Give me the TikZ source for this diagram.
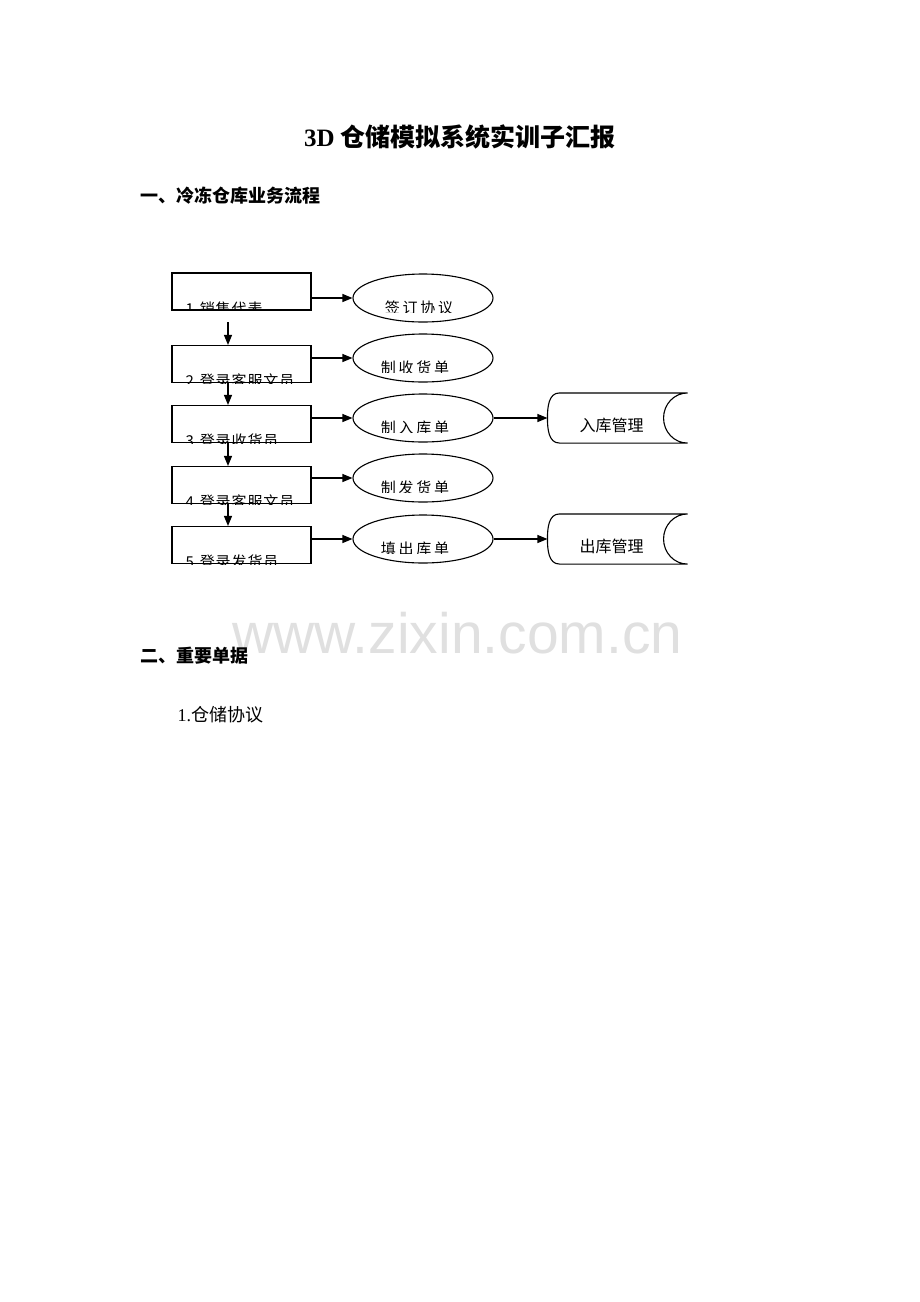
\documentclass[tikz,border=0pt]{standalone}
\usepackage{fontspec}
\usetikzlibrary{arrows.meta,shapes.geometric}
\setmainfont{Liberation Serif}
\newfontfamily\cjk{Noto Sans CJK SC}
\newfontfamily\wmfont{Liberation Sans}
\begin{document}
\begin{tikzpicture}[x=1pt,y=-1pt,line width=1.1pt,
  arr/.style={-{Triangle[length=10pt,width=8pt]}},
  stepbox/.style={draw,minimum width=139pt,minimum height=37pt,inner sep=0pt},
  oval/.style={draw,ellipse,minimum width=140pt,minimum height=48pt,inner sep=0pt},
  store/.style={minimum width=139pt,minimum height=49pt,inner sep=0pt},
  boxtxt/.style={inner sep=0pt,anchor=west,font=\cjk\fontsize{15}{15}\selectfont\addfontfeature{LetterSpace=6}},
  ovaltxt/.style={inner sep=0pt,font=\cjk\fontsize{15}{15}\selectfont\addfontfeature{LetterSpace=18}},
  storetxt/.style={inner sep=0pt,font=\cjk\fontsize{16}{16}\selectfont},
  headtxt/.style={inner sep=0pt,anchor=west,font=\cjk\bfseries\fontsize{18}{18}\selectfont}]
\useasboundingbox (0,0) rectangle (920,1302);
\fill[white] (0,0) rectangle (920,1302);

% watermark
\node[anchor=base west,inner sep=0pt,text=black!12,font=\wmfont\fontsize{57}{57}\selectfont] (wm) at (232,653) {www.zixin.com.cn};

% title and headings
\node[inner sep=0pt,font=\bfseries\fontsize{25}{25}\selectfont] (title) at (460,137) {3D {\cjk\bfseries 仓储模拟系统实训子汇报}};
\node[headtxt] (h1) at (140,196) {一、冷冻仓库业务流程};
\node[headtxt] (h2) at (140,656) {二、重要单据};
\node[inner sep=0pt,anchor=west,font=\fontsize{18}{18}\selectfont] (item) at (177,715) {1.{\cjk 仓储协议}};

% boxes
\node[stepbox] (b1) at (241.5,291.5) {};
\node[stepbox] (b2) at (241.5,364) {};
\node[stepbox] (b3) at (241.5,424) {};
\node[stepbox] (b4) at (241.5,485) {};
\node[stepbox] (b5) at (241.5,545) {};

% ovals
\node[oval] (e1) at (423,298) {};
\node[oval] (e2) at (423,358) {};
\node[oval] (e3) at (423,418) {};
\node[oval] (e4) at (423,478) {};
\node[oval] (e5) at (423,539) {};

% stores
\node[store] (s1) at (617.5,418) {};
\node[store] (s2) at (617.5,539) {};
\foreach \s in {s1,s2}{
  \draw ([xshift=12pt]\s.north west) -- (\s.north east)
        to[out=180,in=90] ([xshift=-24pt]\s.east)
        to[out=-90,in=180] (\s.south east)
        -- ([xshift=12pt]\s.south west)
        to[out=180,in=-90] (\s.west)
        to[out=90,in=180] ([xshift=12pt]\s.north west);
}
\node[storetxt] (st1) at ([xshift=-6pt,yshift=-7pt]s1.center) {入库管理};
\node[storetxt] (st2) at ([xshift=-6pt,yshift=-7pt]s2.center) {出库管理};

% clipped box texts
\begin{scope}\clip (b1.north west) rectangle (b1.south east);
\node[boxtxt] (t1) at (185,308.5) {1.销售代表};\end{scope}
\begin{scope}\clip (b2.north west) rectangle (b2.south east);
\node[boxtxt] (t2) at (185,380.5) {2.登录客服文员};\end{scope}
\begin{scope}\clip (b3.north west) rectangle (b3.south east);
\node[boxtxt] (t3) at (185,440.5) {3.登录收货员};\end{scope}
\begin{scope}\clip (b4.north west) rectangle (b4.south east);
\node[boxtxt] (t4) at (185,501.5) {4.登录客服文员};\end{scope}
\begin{scope}\clip (b5.north west) rectangle (b5.south east);
\node[boxtxt] (t5) at (185,561.5) {5.登录发货员};\end{scope}

% oval texts (slightly clipped at bottom)
\begin{scope}\clip ([yshift=-14pt]e1.west) rectangle (e1.north east);
\node[ovaltxt] (o1) at ([xshift=-4pt,yshift=-10pt]e1.center) {签订协议};\end{scope}
\begin{scope}\clip ([yshift=-14pt]e2.west) rectangle (e2.north east);
\node[ovaltxt] (o2) at ([xshift=-8pt,yshift=-10pt]e2.center) {制收货单};\end{scope}
\begin{scope}\clip ([yshift=-14pt]e3.west) rectangle (e3.north east);
\node[ovaltxt] (o3) at ([xshift=-8pt,yshift=-10pt]e3.center) {制入库单};\end{scope}
\begin{scope}\clip ([yshift=-14pt]e4.west) rectangle (e4.north east);
\node[ovaltxt] (o4) at ([xshift=-8pt,yshift=-10pt]e4.center) {制发货单};\end{scope}
\begin{scope}\clip ([yshift=-14pt]e5.west) rectangle (e5.north east);
\node[ovaltxt] (o5) at ([xshift=-8pt,yshift=-10pt]e5.center) {填出库单};\end{scope}

% connectors
\coordinate (a0) at (228,322);
\draw[arr] (a0) -- (b2.north -| a0);
\draw[arr] (b2.south -| a0) -- (b3.north -| a0);
\draw[arr] (b3.south -| a0) -- (b4.north -| a0);
\draw[arr] (b4.south -| a0) -- (b5.north -| a0);
\foreach \i in {1,...,5}{
  \draw[arr] (e\i.west -| b\i.east) -- (e\i.west);
}
\draw[arr] (e3.east) -- (s1.west);
\draw[arr] (e5.east) -- (s2.west);
\end{tikzpicture}
\end{document}
